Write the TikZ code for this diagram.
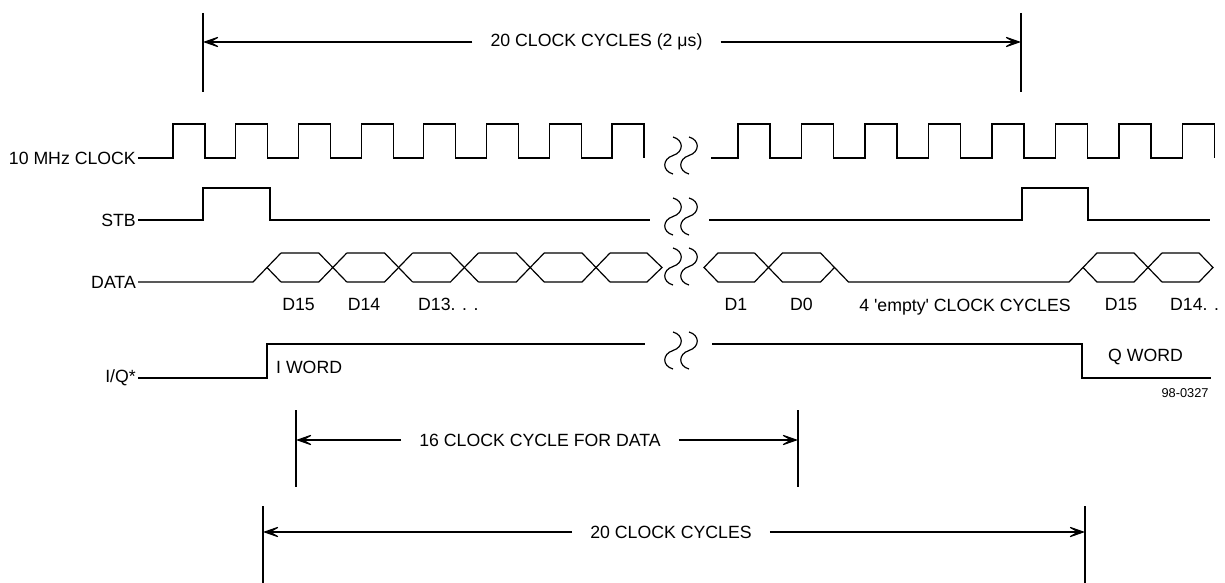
\documentclass[tikz,border=0pt]{standalone}
\usepackage{fontspec}
\setmainfont{Liberation Sans}
\usetikzlibrary{arrows.meta}

\tikzset{
  sig/.style={line width=1.2pt, line join=miter},
  dim/.style={line width=1.1pt},
  lbl/.style={font=\fontsize{17.7}{20}\selectfont, inner sep=2pt},
  dimtext/.style={lbl, inner xsep=18pt},
  dimarrow/.style={dim, -{Stealth[length=20pt,width=14pt,inset=12pt]}},
  brk/.pic={
    \draw[sig] (0,0) .. controls (11,3) and (11,15) .. (0,18.5) .. controls (-11,22) and (-11,34) .. (0,37);
    \draw[sig] (16,0) .. controls (27,3) and (27,15) .. (16,18.5) .. controls (5,22) and (5,34) .. (16,37);
  }
}

\begin{document}
\begin{tikzpicture}[x=1pt, y=-1pt]
    \useasboundingbox (0,0) rectangle (1225,583);

    % Signal names
    \node[lbl, anchor=east] (clk) at (138,158) {10 MHz CLOCK};
    \node[lbl, anchor=east] (stb) at (138,220) {STB};
    \node[lbl, anchor=east] (data) at (138,282) {DATA};
    \node[lbl, anchor=east] (iq) at (138,378) {I/Q*};

    % Clock, both halves
    \draw[sig] (clk.east) \foreach \k in {0,...,7} {-- ({173+62.7*\k},158) -- ++(0,-34) -- ++(32,0) -- ++(0,34)};
    \draw[sig] (711,158) \foreach \k in {0,...,7} {-- ({738+63.5*\k},158) -- ++(0,-34) -- ++(32,0) -- ++(0,34)};

    % Strobe
    \draw[sig] (stb.east) -- (203,220) -- (203,188) -- (270,188) -- (270,220) -- (650,220);
    \draw[sig] (709,220) -- (1022,220) -- (1022,188) -- (1088,188) -- (1088,220) -- (1210,220);

    % Data, first word
    \draw[sig] (data.east) -- (253,282) -- (281,253);
    \draw[sig] (267,267.5) -- (281,282);
    \foreach \c in {332.8,398.6,464.4,530.2,596} {
      \draw[sig] ({\c-51.8},253) -- ({\c-14},253) -- ({\c+14},282);
      \draw[sig] ({\c-51.8},282) -- ({\c-14},282) -- ({\c+14},253);
    }
    \draw[sig] (610,253) -- (647,253) -- (662,267.5) -- (647,282) -- (610,282);

    % Data, last bits and next word
    \draw[sig] (754.5,253) -- (718,253) -- (704,267.5) -- (718,282) -- (754.5,282) -- (782.5,253) -- (820.5,253) -- (848.5,282) -- (1069,282) -- (1097,253) -- (1134,253) -- (1162,282);
    \draw[sig] (754.5,253) -- (782.5,282) -- (820.5,282) -- (834.5,267.5);
    \draw[sig] (1083,267.5) -- (1097,282) -- (1134,282) -- (1162,253);
    \draw[sig] (1162,253) -- (1199,253) -- (1213,267.5) -- (1199,282) -- (1162,282);

    % I/Q select
    \draw[sig] (iq.east) -- (267,378) -- (267,344) -- (645,344);
    \draw[sig] (712,344) -- (1082,344) -- (1082,378) -- (1211,378);

    % Breaks in time
    \pic at (673,137) {brk};
    \pic at (673,198) {brk};
    \pic at (673,248) {brk};
    \pic at (673,332) {brk};

    % Bit labels
    \node[lbl, anchor=base] (b15) at (298.5,310) {D15};
    \node[lbl, anchor=base] (b14) at (364,310) {D14};
    \node[lbl, anchor=base west] (b13) at (416,310) {D13. . .};
    \node[lbl, anchor=base] (b1) at (736,310) {D1};
    \node[lbl, anchor=base] (b0) at (801.5,310) {D0};
    \node[lbl, anchor=base] (empty) at (965,311) {4 \textquotesingle empty\textquotesingle{} CLOCK CYCLES};
    \node[lbl, anchor=base] (n15) at (1121,310) {D15};
    \node[lbl, anchor=base west] (n14) at (1168,310) {D14. .};

    % Word labels
    \node[lbl, anchor=west] (iword) at (274,367) {I WORD};
    \node[lbl, anchor=west] (qword) at (1106,357) {Q WORD};
    \node[font=\fontsize{12.8}{14}\selectfont] (fig) at (1185,393) {98-0327};

    % Dimension: whole frame
    \draw[dim] (203,13) -- (203,92);
    \draw[dim] (1021,13) -- (1021,92);
    \coordinate (frameL) at (203,42);
    \coordinate (frameR) at (1021,42);
    \node[dimtext] (frame) at (596.5,42) {20 CLOCK CYCLES (2 μs)};
    \draw[dimarrow] (frame.west) -- (frameL);
    \draw[dimarrow] (frame.east) -- (frameR);

    % Dimension: data bits
    \draw[dim] (296,410) -- (296,487);
    \draw[dim] (798,410) -- (798,487);
    \coordinate (bitsL) at (296,440);
    \coordinate (bitsR) at (798,440);
    \node[dimtext] (bits) at (540,440) {16 CLOCK CYCLE FOR DATA};
    \draw[dimarrow] (bits.west) -- (bitsL);
    \draw[dimarrow] (bits.east) -- (bitsR);

    % Dimension: word
    \draw[dim] (263,506) -- (263,583);
    \draw[dim] (1085,506) -- (1085,583);
    \coordinate (wordL) at (263,532);
    \coordinate (wordR) at (1085,532);
    \node[dimtext] (word) at (671,532) {20 CLOCK CYCLES};
    \draw[dimarrow] (word.west) -- (wordL);
    \draw[dimarrow] (word.east) -- (wordR);
\end{tikzpicture}
\end{document}
